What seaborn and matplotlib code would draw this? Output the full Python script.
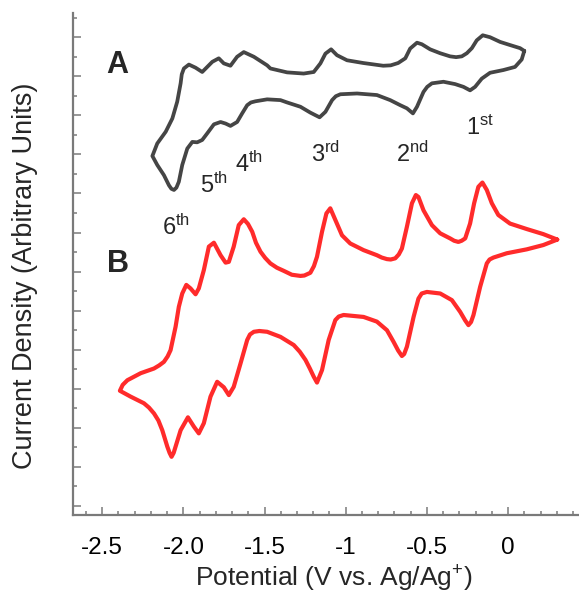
import matplotlib
matplotlib.use("Agg")
import matplotlib.pyplot as plt
from matplotlib.ticker import MultipleLocator, FixedLocator
import seaborn as sns
import pandas as pd

# ---- data ----
# Curve A: (potential V, current a.u.) closed loop
a_pts = [(0.100, 11.65), (0.074, 11.72), (0.012, 11.80), (-0.049, 11.88), (-0.111, 12.00),
         (-0.156, 12.05), (-0.193, 11.92), (-0.223, 11.72), (-0.254, 11.59), (-0.285, 11.51),
         (-0.320, 11.49), (-0.357, 11.51), (-0.418, 11.59), (-0.480, 11.69), (-0.531, 11.82),
         (-0.561, 11.86), (-0.603, 11.71), (-0.633, 11.46), (-0.677, 11.34), (-0.723, 11.28),
         (-0.769, 11.27), (-0.892, 11.34), (-0.992, 11.41), (-1.054, 11.54), (-1.090, 11.69),
         (-1.125, 11.58), (-1.156, 11.33), (-1.197, 11.11), (-1.259, 11.07), (-1.361, 11.10),
         (-1.464, 11.20), (-1.484, 11.28), (-1.566, 11.50), (-1.628, 11.62), (-1.669, 11.50),
         (-1.710, 11.27), (-1.751, 11.33), (-1.782, 11.46), (-1.822, 11.37), (-1.884, 11.11),
         (-1.925, 11.22), (-1.966, 11.30), (-1.997, 11.20), (-2.010, 11.05), (-2.017, 10.82),
         (-2.038, 10.35), (-2.068, 9.92), (-2.109, 9.58), (-2.161, 9.28), (-2.191, 8.96),
         (-2.161, 8.73), (-2.120, 8.47), (-2.089, 8.21), (-2.074, 8.12), (-2.058, 8.09),
         (-2.043, 8.15), (-2.028, 8.30), (-2.007, 8.73), (-1.976, 9.15), (-1.945, 9.32),
         (-1.915, 9.31), (-1.884, 9.37), (-1.853, 9.54), (-1.812, 9.77), (-1.771, 9.83),
         (-1.740, 9.79), (-1.710, 9.73), (-1.669, 9.83), (-1.638, 10.05), (-1.607, 10.26),
         (-1.584, 10.33), (-1.556, 10.36), (-1.484, 10.41), (-1.402, 10.39), (-1.361, 10.33),
         (-1.279, 10.22), (-1.218, 10.07), (-1.161, 9.95), (-1.125, 10.09), (-1.084, 10.39),
         (-1.061, 10.49), (-1.033, 10.54), (-0.930, 10.56), (-0.808, 10.52), (-0.726, 10.39),
         (-0.664, 10.26), (-0.623, 10.18), (-0.586, 10.05), (-0.561, 10.22), (-0.521, 10.60),
         (-0.498, 10.73), (-0.469, 10.82), (-0.398, 10.86), (-0.326, 10.80), (-0.275, 10.73),
         (-0.234, 10.64), (-0.203, 10.73), (-0.162, 10.94), (-0.111, 11.09), (-0.029, 11.16),
         (0.043, 11.24), (0.084, 11.43), (0.100, 11.65)]

# Curve B: (potential V, current a.u.) closed loop
b_pts = [(0.303, 6.82), (0.217, 6.96), (0.115, 7.09), (0.012, 7.23), (-0.060, 7.45),
         (-0.100, 7.75), (-0.131, 8.09), (-0.158, 8.28), (-0.183, 8.17), (-0.209, 7.75),
         (-0.234, 7.23), (-0.264, 6.85), (-0.286, 6.79), (-0.306, 6.76), (-0.332, 6.79),
         (-0.357, 6.85), (-0.418, 6.98), (-0.469, 7.19), (-0.521, 7.57), (-0.552, 7.91),
         (-0.568, 7.96), (-0.592, 7.75), (-0.623, 7.15), (-0.654, 6.59), (-0.673, 6.44),
         (-0.695, 6.34), (-0.723, 6.31), (-0.746, 6.32), (-0.778, 6.36), (-0.808, 6.42),
         (-0.890, 6.55), (-0.972, 6.72), (-1.023, 6.93), (-1.064, 7.32), (-1.095, 7.62),
         (-1.119, 7.49), (-1.146, 7.02), (-1.177, 6.38), (-1.196, 6.14), (-1.218, 5.97),
         (-1.255, 5.90), (-1.279, 5.89), (-1.332, 5.92), (-1.382, 6.02), (-1.424, 6.10),
         (-1.464, 6.21), (-1.496, 6.35), (-1.525, 6.51), (-1.553, 6.74), (-1.576, 7.02),
         (-1.602, 7.22), (-1.628, 7.34), (-1.659, 7.19), (-1.690, 6.64), (-1.720, 6.25),
         (-1.740, 6.23), (-1.771, 6.42), (-1.812, 6.74), (-1.843, 6.64), (-1.874, 6.04),
         (-1.905, 5.57), (-1.925, 5.42), (-1.956, 5.57), (-1.982, 5.66), (-2.007, 5.44),
         (-2.028, 5.10), (-2.048, 4.59), (-2.079, 3.99), (-2.097, 3.83), (-2.120, 3.69),
         (-2.149, 3.60), (-2.181, 3.52), (-2.263, 3.40), (-2.345, 3.22), (-2.374, 3.10),
         (-2.391, 2.95), (-2.325, 2.80), (-2.243, 2.63), (-2.212, 2.52), (-2.181, 2.37),
         (-2.154, 2.19), (-2.130, 1.94), (-2.099, 1.52), (-2.085, 1.36), (-2.073, 1.26),
         (-2.060, 1.36), (-2.048, 1.52), (-2.017, 1.94), (-1.972, 2.27), (-1.935, 2.03),
         (-1.905, 1.86), (-1.874, 2.12), (-1.833, 2.80), (-1.792, 3.18), (-1.751, 3.04),
         (-1.720, 2.84), (-1.690, 3.05), (-1.648, 3.65), (-1.607, 4.25), (-1.590, 4.39),
         (-1.566, 4.46), (-1.532, 4.48), (-1.484, 4.46), (-1.402, 4.33), (-1.320, 4.12),
         (-1.283, 3.95), (-1.248, 3.74), (-1.221, 3.52), (-1.197, 3.31), (-1.177, 3.16),
         (-1.146, 3.48), (-1.105, 4.25), (-1.064, 4.76), (-1.043, 4.85), (-1.013, 4.89),
         (-0.890, 4.84), (-0.808, 4.72), (-0.746, 4.50), (-0.705, 4.20), (-0.677, 3.98),
         (-0.654, 3.84), (-0.640, 3.89), (-0.623, 4.08), (-0.582, 4.84), (-0.552, 5.31),
         (-0.532, 5.44), (-0.500, 5.48), (-0.418, 5.44), (-0.346, 5.27), (-0.295, 4.97),
         (-0.264, 4.75), (-0.244, 4.63), (-0.228, 4.71), (-0.213, 4.89), (-0.172, 5.61),
         (-0.131, 6.21), (-0.114, 6.31), (-0.090, 6.36), (-0.008, 6.47), (0.115, 6.57),
         (0.217, 6.68), (0.303, 6.82)]

x_ticks = [-2.5, -2.0, -1.5, -1.0, -0.5, 0.0]
x_tick_labels = ["-2.5", "-2.0", "-1.5", "-1", "-0.5", "0"]

panel_labels = ["A", "B"]
panel_pos = [(-2.405, 11.08), (-2.405, 5.99)]
peak_labels = ["1$^{st}$", "2$^{nd}$", "3$^{rd}$", "4$^{th}$", "5$^{th}$", "6$^{th}$"]
peak_pos = [(-0.258, 9.49), (-0.689, 8.80), (-1.212, 8.80), (-1.685, 8.55),
            (-1.900, 8.01), (-2.134, 6.93)]

# ---- styling ----
sns.set_style("ticks")
plt.rcParams["font.family"] = ["Liberation Sans", "DejaVu Sans"]
plt.rcParams["mathtext.default"] = "regular"

df_a = pd.DataFrame(a_pts, columns=["potential", "current"])
df_b = pd.DataFrame(b_pts, columns=["potential", "current"])

fig = plt.figure(figsize=(5.79, 6.02), dpi=100)
ax = fig.add_axes([73 / 579, 1 - 515 / 602, (579 - 73) / 579, (515 - 13) / 602])

sns.lineplot(data=df_a, x="potential", y="current", sort=False, estimator=None,
             color="#454545", lw=2.7, ax=ax, solid_joinstyle="round",
             solid_capstyle="round")
sns.lineplot(data=df_b, x="potential", y="current", sort=False, estimator=None,
             color="#ff2b2b", lw=3.0, ax=ax, solid_joinstyle="round",
             solid_capstyle="round")

ax.set_xlim(-2.68, 0.437)
ax.set_ylim(-0.23, 12.62)

ax.xaxis.set_major_locator(FixedLocator(x_ticks))
ax.set_xticklabels(x_tick_labels)
ax.xaxis.set_minor_locator(MultipleLocator(0.1))
ax.yaxis.set_major_locator(MultipleLocator(1))
ax.yaxis.set_minor_locator(MultipleLocator(0.5))

spine_col = "#7a7a7a"
for s in ["top", "right"]:
    ax.spines[s].set_visible(False)
for s in ["left", "bottom"]:
    ax.spines[s].set_color(spine_col)
    ax.spines[s].set_linewidth(1.6)

ax.tick_params(which="both", direction="in", color=spine_col, width=1.1)
ax.tick_params(which="major", length=6)
ax.tick_params(which="minor", length=3)
ax.tick_params(axis="x", which="major", labelsize=17.5, pad=16, labelcolor="black")
ax.tick_params(axis="y", labelleft=False)

ax.set_xlabel("Potential (V vs. Ag/Ag$^{+}$)", fontsize=19, labelpad=3)
ax.set_ylabel("Current Density (Arbitrary Units)", fontsize=19.5, labelpad=22)
ax.xaxis.label.set_x(0.515)
ax.yaxis.label.set_y(0.476)

for lab, (px, py) in zip(panel_labels, panel_pos):
    ax.text(px, py, lab, fontsize=22, fontweight="bold", ha="center", va="baseline")
for lab, (px, py) in zip(peak_labels, peak_pos):
    ax.text(px, py, lab, fontsize=17, ha="left", va="baseline")

fig.savefig("out.png", dpi=100)
